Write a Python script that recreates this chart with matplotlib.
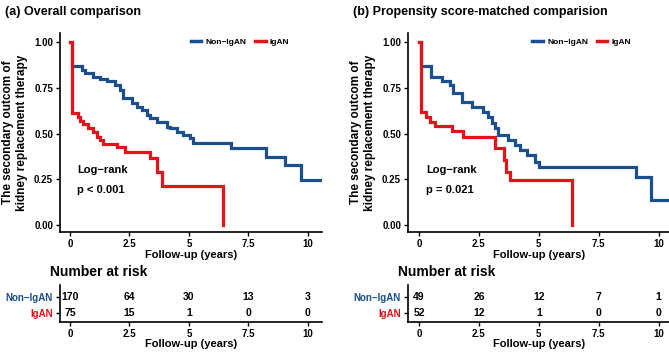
import numpy as np
import matplotlib
matplotlib.use("Agg")
import matplotlib.pyplot as plt

plt.rcParams['font.family'] = ['Liberation Sans', 'DejaVu Sans']
plt.rcParams['font.weight'] = 'bold'

BLUE = "#1b4f8e"
RED = "#e3131b"

# (a) overall comparison - KM curves
a_non_t = [0, 0.07, 0.49, 0.63, 0.98, 1.26, 1.54, 1.89, 2.10, 2.24, 2.59, 2.80, 3.01, 3.22,
           3.36, 3.64, 4.06, 4.20, 4.48, 4.76, 5.03, 5.17, 6.78, 8.25, 9.02, 9.72, 10.5]
a_non_s = [1.0, 0.867, 0.849, 0.83, 0.81, 0.80, 0.785, 0.766, 0.739, 0.693, 0.666, 0.648, 0.63,
           0.602, 0.584, 0.566, 0.538, 0.529, 0.511, 0.493, 0.474, 0.45, 0.42, 0.374, 0.328,
           0.246, 0.246]
a_iga_t = [0, 0.07, 0.35, 0.42, 0.56, 0.77, 0.98, 1.12, 1.26, 1.40, 1.96, 2.31, 3.36, 3.64, 3.85, 6.43]
a_iga_s = [1.0, 0.61, 0.59, 0.57, 0.55, 0.53, 0.51, 0.48, 0.465, 0.443, 0.425, 0.40, 0.365, 0.29,
           0.215, 0.0]

# (b) propensity score-matched
b_non_t = [0, 0.07, 0.52, 0.94, 1.29, 1.43, 1.78, 2.20, 2.69, 2.90, 3.03, 3.17, 3.31, 3.73, 4.01,
           4.22, 4.50, 4.85, 4.99, 9.05, 9.68, 10.5]
b_non_s = [1.0, 0.867, 0.81, 0.79, 0.766, 0.72, 0.675, 0.648, 0.62, 0.593, 0.557, 0.53, 0.49,
           0.465, 0.438, 0.41, 0.383, 0.347, 0.32, 0.265, 0.137, 0.137]
b_iga_t = [0, 0.07, 0.31, 0.45, 0.66, 1.36, 1.85, 3.19, 3.53, 3.64, 3.78, 6.39]
b_iga_s = [1.0, 0.62, 0.593, 0.566, 0.542, 0.515, 0.484, 0.42, 0.355, 0.29, 0.245, 0.0]

risk_times = [0, 2.5, 5, 7.5, 10]
a_risk_non = [170, 64, 30, 13, 3]
a_risk_iga = [75, 15, 1, 0, 0]
b_risk_non = [49, 26, 12, 7, 1]
b_risk_iga = [52, 12, 1, 0, 0]

groups = ["Non\u2212IgAN", "IgAN"]
y_ticks = [0.0, 0.25, 0.5, 0.75, 1.0]
x_ticks = [0, 2.5, 5, 7.5, 10]
x_ticklabels = ["0", "2.5", "5", "7.5", "10"]

W, H = 669, 353
fig = plt.figure(figsize=(W / 100, H / 100), dpi=100)


def style(ax):
    for s in ["top", "right"]:
        ax.spines[s].set_visible(False)
    for s in ["left", "bottom"]:
        ax.spines[s].set_linewidth(1.2)
    ax.tick_params(length=3, width=1.0, labelsize=7, pad=2)
    for lab in ax.get_xticklabels() + ax.get_yticklabels():
        lab.set_fontweight('bold')


def panel(left, xlim, title, non_t, non_s, iga_t, iga_s, pval, rnon, riga, legx):
    ax = fig.add_axes([left / W, 1 - 232 / H, 262 / W, 199 / H])
    ax.step(non_t, non_s, where='post', color=BLUE, lw=2.3, label=groups[0], solid_joinstyle='miter')
    ax.step(iga_t, iga_s, where='post', color=RED, lw=2.3, label=groups[1], solid_joinstyle='miter')
    ax.set_xlim(*xlim)
    ax.set_ylim(-0.038, 1.05)
    ax.set_xticks(x_ticks)
    ax.set_xticklabels(x_ticklabels)
    ax.set_yticks(y_ticks)
    ax.set_yticklabels(["0.00", "0.25", "0.50", "0.75", "1.00"])
    style(ax)
    ax.set_xlabel("Follow-up (years)", fontsize=8, fontweight='bold', labelpad=1)
    ax.set_ylabel("The secondary outcom of\nkidney replacement therapy", fontsize=8.5,
                  fontweight='bold', labelpad=4, linespacing=1.25)
    ax.text(0.3, 0.30, "Log\u2212rank", fontsize=8, fontweight='bold', va='center')
    ax.text(0.3, 0.19, pval, fontsize=8, fontweight='bold', va='center')
    leg = ax.legend(ncol=2, loc='center', bbox_to_anchor=(legx, 0.955), frameon=False,
                    handlelength=1.3, columnspacing=1.0, handletextpad=0.5,
                    prop={'weight': 'bold', 'size': 6})
    for line in leg.get_lines():
        line.set_linewidth(2.5)
    fig.text((left - 10) / W, 1 - 272 / H, "Number at risk", fontsize=10, fontweight='bold',
             va='center', ha='left')

    tb = fig.add_axes([left / W, 1 - 322 / H, 262 / W, 37 / H])
    tb.set_xlim(*xlim)
    tb.set_ylim(-0.6, 1.75)
    for x, n1, n2 in zip(risk_times, rnon, riga):
        tb.text(x, 1, str(n1), ha='center', va='center', fontsize=7.5, fontweight='bold')
        tb.text(x, 0, str(n2), ha='center', va='center', fontsize=7.5, fontweight='bold')
    tb.set_xticks(x_ticks)
    tb.set_xticklabels(x_ticklabels)
    tb.set_yticks([1, 0])
    tb.set_yticklabels(groups)
    style(tb)
    tb.get_yticklabels()[0].set_color(BLUE)
    tb.get_yticklabels()[1].set_color(RED)
    tb.set_xlabel("Follow-up (years)", fontsize=8, fontweight='bold', labelpad=0)
    fig.text((left - 55) / W, 1 - 12 / H, title, fontsize=9, fontweight='bold',
             va='center', ha='left')
    return ax


panel(60, (-0.42, 10.59), "(a) Overall comparison", a_non_t, a_non_s, a_iga_t, a_iga_s,
      "p < 0.001", a_risk_non, a_risk_iga, 0.687)
panel(408, (-0.46, 10.48), "(b) Propensity score-matched comparision", b_non_t, b_non_s,
      b_iga_t, b_iga_s, "p = 0.021", b_risk_non, b_risk_iga, 0.663)

fig.savefig("out.png", dpi=100)
